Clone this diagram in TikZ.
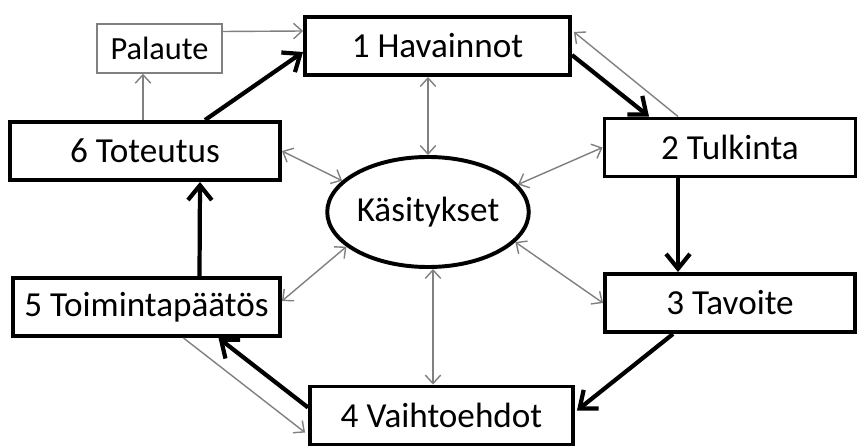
\documentclass[tikz,border=0pt]{standalone}
\usepackage{fontspec}
\setmainfont{Carlito}
\usetikzlibrary{calc,arrows.meta,shapes.geometric}

\begin{document}
\begin{tikzpicture}[x=0.025cm,y=-0.025cm,
                    thick box/.style={draw,line width=2.8pt,inner sep=0pt,minimum width=#1*0.025cm,minimum height=1.45cm,font=\fontsize{25}{30}\selectfont},
                    thin box/.style={draw=gray,line width=1pt,inner sep=0pt,minimum width=#1*0.025cm,minimum height=1.225cm,font=\fontsize{23}{28}\selectfont},
                    main arrow/.style={line width=3pt,-{Straight Barb[length=10.5pt,width=17pt]}},
                    gray arrow/.style={gray,line width=1pt,-{Straight Barb[length=6pt,width=11pt]}},
                    two way/.style={gray arrow,{Straight Barb[length=6pt,width=11pt]}-{Straight Barb[length=6pt,width=11pt]}}]

\useasboundingbox (0,0) rectangle (860,446);

\node [thick box=265] (hav) at (437.5,46) {1 Havainnot};
\node [thick box=251] (tul) at (730,147.5) {2 Tulkinta};
\node [thick box=250] (tav) at (730,303) {3 Tavoite};
\node [thick box=263] (vai) at (441.5,415.5) {4 Vaihtoehdot};
\node [thick box=267] (toi) at (146.5,307) {5 Toimintapäätös};
\node [thick box=270] (tot) at (145,151) {6 Toteutus};
\node [thin box=125] (pal) at (159.5,48.5) {Palaute};
\node [draw,ellipse,line width=2.8pt,inner sep=0pt,minimum width=4.925cm,minimum height=2.75cm,font=\fontsize{25}{30}\selectfont] (kas) at (428,212) {Käsitykset};

\draw [main arrow] ($(tot.north)+(60,0)$) -- ($(hav.west)+(0,6)$);
\draw [main arrow] ($(hav.east)+(0,9)$) -- ($(tul.north)+(-81,0)$);
\draw [main arrow] ($(tul.south)+(-52,0)$) -- ($(tav.north)+(-52,0)$);
\draw [main arrow] ($(tav.south)+(-57,0)$) -- ($(vai.east)+(2,-5)$);
\draw [main arrow] ($(vai.west)+(0,-8)$) -- ($(toi.south)+(72,0)$);
\draw [main arrow] ($(toi.north)+(53,0)$) -- ($(tot.south)+(55,0)$);

\draw [gray arrow] ($(pal.east)+(0,-17)$) -- ($(hav.west)+(0,-15)$);
\draw [gray arrow] ($(tot.north)+(-2,0)$) -- ($(pal.south)+(-16.5,0)$);
\draw [gray arrow] ($(tul.north)+(-52,0)$) -- ($(hav.east)+(2,-14)$);
\draw [gray arrow] ($(toi.south)+(37,0)$) -- ($(vai.west)+(-3,17)$);

\draw [two way] (kas.north) -- (kas.north |- hav.south);
\draw [two way] ($(kas.south)+(5,0)$) -- ($(kas.south |- vai.north)+(5,0)$);
\draw [two way] (tot.east) -- (kas.160);
\draw [two way] (tul.west) -- (kas.17);
\draw [two way] ($(toi.east)+(0,-6)$) -- (kas.203);
\draw [two way] (tav.west) -- (kas.341);

\end{tikzpicture}
\end{document}
